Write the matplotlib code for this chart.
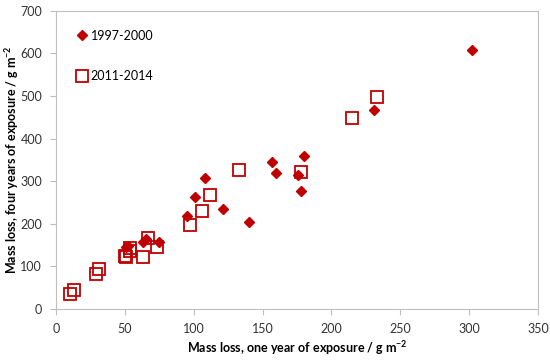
import matplotlib
matplotlib.use("Agg")
import matplotlib.pyplot as plt

# 1997-2000 series (diamonds)
x_9700 = [302, 231, 180, 157, 160, 176, 178, 108, 101, 121, 140, 95, 75, 65, 63, 51, 52]
y_9700 = [608, 467, 360, 346, 319, 315, 277, 307, 262, 235, 205, 217, 156, 164, 156, 145, 148]

# 2011-2014 series (open squares)
x_1114 = [233, 215, 178, 133, 112, 106, 97, 67, 73, 63, 54, 54, 50, 51, 31, 29, 13, 10]
y_1114 = [497, 448, 322, 327, 268, 231, 196, 166, 146, 123, 144, 135, 125, 121, 94, 81, 45, 35]

red = "#C00000"
grey = "#BFBFBF"
plt.rcParams['font.family'] = ['Lato', 'DejaVu Sans']
plt.rcParams['mathtext.fontset'] = 'custom'
plt.rcParams['mathtext.bf'] = 'Lato:bold'
plt.rcParams['mathtext.rm'] = 'Lato'

fig = plt.figure(figsize=(5.5, 3.6), dpi=100)
ax = fig.add_axes([0.102, 0.142, 0.876, 0.828])

ax.plot(x_1114, y_1114, linestyle="none", marker="s", markersize=8.5,
        markerfacecolor="none", markeredgecolor=red, markeredgewidth=1.3,
        label="2011-2014")
ax.plot(x_9700, y_9700, linestyle="none", marker="D", markersize=5,
        color=red, label="1997-2000")

ax.set_xlim(0, 350)
ax.set_ylim(0, 700)
ax.set_xticks(range(0, 351, 50))
ax.set_yticks(range(0, 701, 100))

for s in ax.spines.values():
    s.set_color(grey)
ax.tick_params(colors=grey, labelcolor="#333333", labelsize=9, length=4, direction="out")
ax.tick_params(axis="x", pad=6)
ax.tick_params(axis="y", pad=6)

ax.set_xlabel(r"Mass loss, one year of exposure / g m$\mathbf{^{-2}}$", fontsize=9,
              fontweight="bold", labelpad=3)
ax.set_ylabel(r"Mass loss, four years of exposure / g m$\mathbf{^{-2}}$", fontsize=9,
              fontweight="bold")
ax.yaxis.set_label_coords(-0.072, 0.5)

h, l = ax.get_legend_handles_labels()
ax.legend(h[::-1], l[::-1], loc="upper left", bbox_to_anchor=(0.02, 0.975),
          frameon=False, fontsize=9, labelspacing=2.3,
          handlelength=0.8, handletextpad=0.3)

fig.savefig("out.png", dpi=100)
